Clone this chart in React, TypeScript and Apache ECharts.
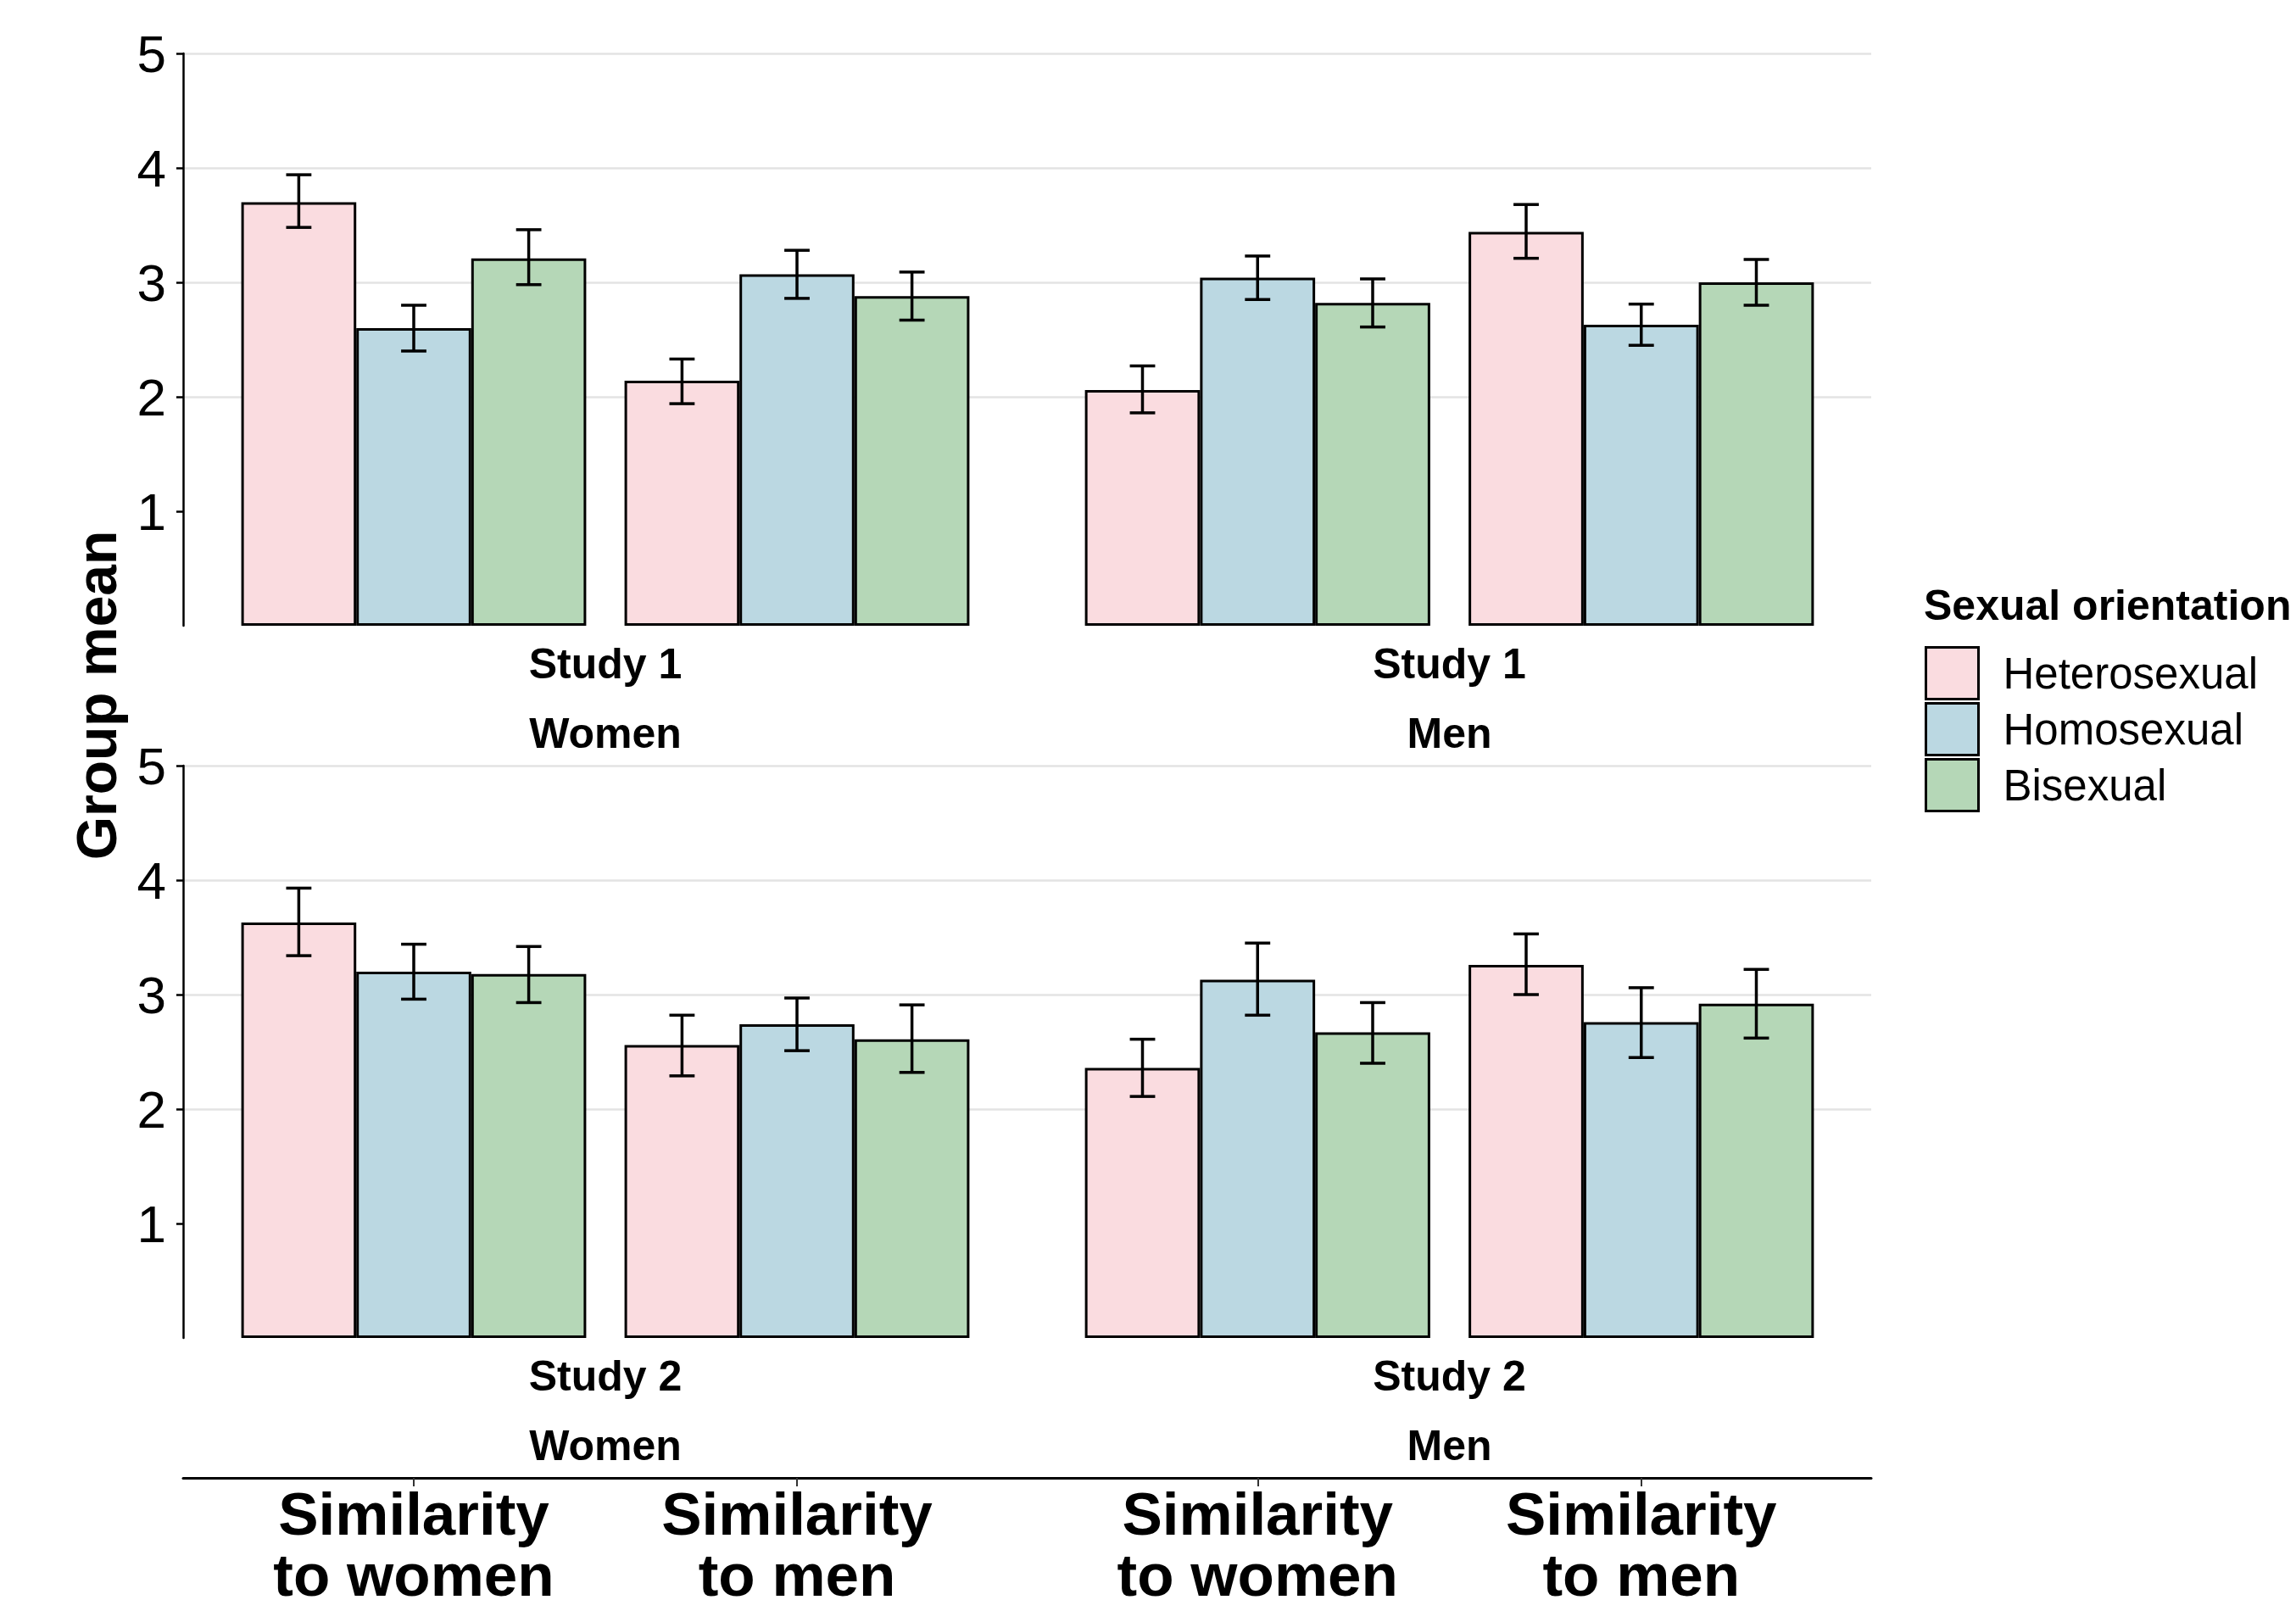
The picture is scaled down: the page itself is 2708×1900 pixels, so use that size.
import React, { useEffect, useRef } from "react";
import * as echarts from "echarts";

const FONT = '"Liberation Sans", Arial, Helvetica, sans-serif';

const categories = ["Similarity\nto women", "Similarity\nto men"];
const orientations = ["Heterosexual", "Homosexual", "Bisexual"];
const colors = ["#FADCE0", "#BBD8E2", "#B5D7B7"];
const stripNames = ["Study 1\nWomen", "Study 1\nMen", "Study 2\nWomen", "Study 2\nMen"];
const yTicks = [1, 2, 3, 4, 5];

// Means per panel: [orientation][category]
const study1WomenMeans = [[3.7, 2.14], [2.6, 3.07], [3.21, 2.88]];
const study1WomenLower = [[3.48, 1.94], [2.4, 2.86], [2.98, 2.67]];
const study1WomenUpper = [[3.94, 2.33], [2.8, 3.28], [3.46, 3.09]];

const study1MenMeans = [[2.06, 3.44], [3.04, 2.63], [2.82, 3.0]];
const study1MenLower = [[1.86, 3.21], [2.85, 2.45], [2.61, 2.8]];
const study1MenUpper = [[2.27, 3.68], [3.23, 2.81], [3.03, 3.2]];

const study2WomenMeans = [[3.63, 2.56], [3.2, 2.74], [3.18, 2.61]];
const study2WomenLower = [[3.34, 2.29], [2.96, 2.51], [2.93, 2.32]];
const study2WomenUpper = [[3.93, 2.82], [3.44, 2.97], [3.42, 2.91]];

const study2MenMeans = [[2.36, 3.26], [3.13, 2.76], [2.67, 2.92]];
const study2MenLower = [[2.11, 3.0], [2.82, 2.45], [2.4, 2.62]];
const study2MenUpper = [[2.61, 3.53], [3.45, 3.06], [2.93, 3.22]];

const panelMeans = [study1WomenMeans, study1MenMeans, study2WomenMeans, study2MenMeans];
const panelLower = [study1WomenLower, study1MenLower, study2WomenLower, study2MenLower];
const panelUpper = [study1WomenUpper, study1MenUpper, study2WomenUpper, study2MenUpper];

export default function App() {
  const ref = useRef<HTMLDivElement>(null);

  useEffect(() => {
    if (!ref.current) return;
    const chart = echarts.init(ref.current, null, { renderer: "svg" });

    const plotTop = [63, 903];
    const plotH = 675;
    const bgLeft = 216;
    const bgWidth = 1991;
    const barGridLeft = [262, 1257];
    const barGridWidth = [904, 905];

    const grids: any[] = [
      { left: bgLeft, top: plotTop[0], width: bgWidth, height: plotH, outerBoundsMode: "none" },
      { left: bgLeft, top: plotTop[1], width: bgWidth, height: plotH, outerBoundsMode: "none" },
    ];
    for (let p = 0; p < 4; p++) {
      grids.push({
        left: barGridLeft[p % 2],
        top: plotTop[Math.floor(p / 2)],
        width: barGridWidth[p % 2],
        height: plotH,
        outerBoundsMode: "none",
      });
    }

    const bgYAxis = (gi: number) => ({
      type: "value",
      gridIndex: gi,
      min: 0,
      max: 5,
      interval: 1,
      axisLine: { show: true, onZero: false, lineStyle: { color: "#000", width: 2.5 } },
      axisTick: { show: true, length: 8, customValues: yTicks, lineStyle: { color: "#000", width: 2.5 } },
      axisLabel: {
        customValues: yTicks,
        fontSize: 62,
        color: "#000",
        fontFamily: FONT,
        margin: 20,
      },
      splitLine: { show: true, showMinLine: false, lineStyle: { color: "#E3E3E3", width: 2.5 } },
    });

    const xAxes: any[] = [
      { type: "value", gridIndex: 0, show: false, min: 0, max: 1 },
      {
        type: "value",
        gridIndex: 1,
        min: 0,
        max: 1,
        position: "bottom",
        offset: 165,
        axisLine: { show: true, onZero: false, lineStyle: { color: "#000", width: 3 } },
        axisTick: { show: false },
        axisLabel: { show: false },
        splitLine: { show: false },
      },
    ];
    for (let p = 0; p < 4; p++) {
      xAxes.push({
        type: "category",
        gridIndex: 2 + p,
        data: categories,
        position: "bottom",
        axisLine: { show: false, onZero: false },
        axisTick: { show: false },
        axisLabel: { show: false },
        splitLine: { show: false },
        name: stripNames[p],
        nameLocation: "middle",
        nameGap: 4,
        nameTextStyle: {
          fontSize: 50,
          fontWeight: "bold",
          color: "#000",
          fontFamily: FONT,
          lineHeight: 82,
        },
      });
    }
    for (let p = 2; p < 4; p++) {
      xAxes.push({
        type: "category",
        gridIndex: 2 + p,
        data: categories,
        position: "bottom",
        offset: 165,
        axisLine: { show: false, onZero: false },
        axisTick: { show: true, alignWithLabel: true, length: 10, lineStyle: { color: "#333", width: 2 } },
        axisLabel: {
          interval: 0,
          fontSize: 71,
          fontWeight: "bold",
          color: "#000",
          fontFamily: FONT,
          lineHeight: 72,
          margin: 6,
        },
        splitLine: { show: false },
      });
    }

    const yAxes: any[] = [bgYAxis(0), bgYAxis(1)];
    for (let p = 0; p < 4; p++) {
      yAxes.push({ type: "value", gridIndex: 2 + p, min: 0, max: 5, interval: 1, show: false, splitLine: { show: false } });
    }

    const series: any[] = [];
    for (let p = 0; p < 4; p++) {
      for (let s = 0; s < 3; s++) {
        series.push({
          type: "bar",
          name: orientations[s],
          xAxisIndex: 2 + p,
          yAxisIndex: 2 + p,
          data: panelMeans[p][s],
          barGap: "0%",
          barCategoryGap: "10%",
          itemStyle: { color: colors[s], borderColor: "#000", borderWidth: 3 },
          emphasis: { disabled: true },
        });
      }
      const errData: number[][] = [];
      for (let s = 0; s < 3; s++) {
        for (let c = 0; c < categories.length; c++) {
          errData.push([c, s, panelLower[p][s][c], panelUpper[p][s][c]]);
        }
      }
      series.push({
        type: "custom",
        name: "err" + p,
        xAxisIndex: 2 + p,
        yAxisIndex: 2 + p,
        z: 10,
        encode: { x: 0, y: [2, 3] },
        data: errData,
        renderItem: (params: any, api: any) => {
          const c = api.value(0);
          const s = api.value(1);
          const lo = api.coord([c, api.value(2)]);
          const hi = api.coord([c, api.value(3)]);
          const band = api.size([1, 0])[0];
          const group = band * 0.9;
          const bw = group / 3;
          const x = lo[0] - group / 2 + bw * (s + 0.5);
          const half = bw * 0.11;
          const st = { stroke: "#000", lineWidth: 3.5 };
          return {
            type: "group",
            children: [
              { type: "line", shape: { x1: x, y1: hi[1], x2: x, y2: lo[1] }, style: st },
              { type: "line", shape: { x1: x - half, y1: hi[1], x2: x + half, y2: hi[1] }, style: st },
              { type: "line", shape: { x1: x - half, y1: lo[1], x2: x + half, y2: lo[1] }, style: st },
            ],
          };
        },
      });
    }

    chart.setOption({
      animation: false,
      backgroundColor: "#fff",
      textStyle: { fontFamily: FONT },
      title: {
        text: "Sexual orientation",
        left: 2269,
        top: 689,
        padding: 0,
        textStyle: { fontSize: 50, fontWeight: "bold", color: "#000", fontFamily: FONT },
      },
      legend: {
        data: orientations,
        orient: "vertical",
        left: 2270,
        top: 762,
        padding: 0,
        itemWidth: 62,
        itemHeight: 61,
        itemGap: 2,
        icon: "rect",
        selectedMode: false,
        itemStyle: { borderColor: "#000", borderWidth: 3 },
        textStyle: { fontSize: 51, color: "#000", fontFamily: FONT, padding: [0, 0, 0, 24] },
      },
      grid: grids,
      xAxis: xAxes,
      yAxis: yAxes,
      series,
      graphic: [
        {
          type: "text",
          x: 114,
          y: 820,
          rotation: Math.PI / 2,
          style: {
            text: "Group mean",
            font: `bold 66px ${FONT}`,
            fill: "#000",
            textAlign: "center",
            textVerticalAlign: "middle",
          },
        },
      ],
    });

    return () => chart.dispose();
  }, []);

  return (
    <div
      ref={ref}
      style={{ position: "absolute", left: 0, top: 0, width: 2708, height: 1900, background: "#fff" }}
    />
  );
}
